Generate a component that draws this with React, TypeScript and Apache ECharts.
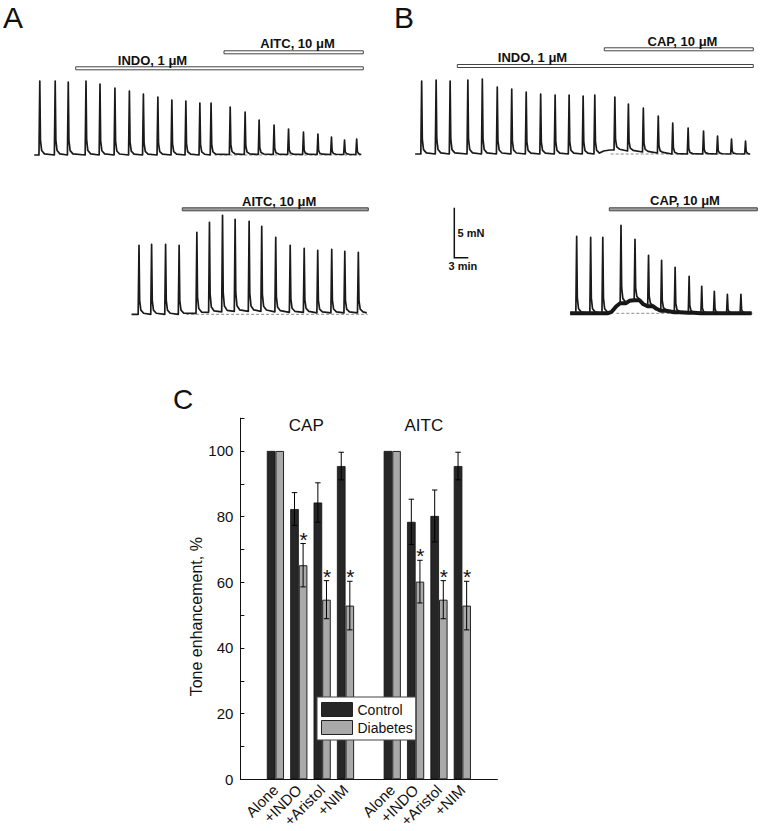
import React, { useEffect, useRef } from "react";
import * as echarts from "echarts";

const FONT = "'Liberation Sans', Arial, Helvetica, sans-serif";

// ---------- Panel C data ----------
const drugs = ["Alone", "+INDO", "+Aristol", "+NIM"];
const stimuli = ["CAP", "AITC"];
const capControl = [100, 82.3, 84.3, 95.4];
const capControlErr = [0, 5.0, 6.0, 4.2];
const capDiabetes = [100, 65.2, 54.7, 52.9];
const capDiabetesErr = [0, 6.6, 5.8, 7.4];
const capSignificant = [false, true, true, true];
const aitcControl = [100, 78.4, 80.2, 95.4];
const aitcControlErr = [0, 6.9, 7.9, 4.2];
const aitcDiabetes = [100, 60.2, 54.7, 52.9];
const aitcDiabetesErr = [0, 6.5, 5.8, 7.4];
const aitcSignificant = [false, true, true, true];
const seriesNames = ["Control", "Diabetes"];

// ---------- Panel A / B traces (time in min, force in mN) ----------
// A, top: INDO then AITC
const aTopTimes = [2.1, 5.4, 8.2, 12.0, 15.0, 18.2, 21.3, 24.3, 27.4, 30.4, 33.4, 36.4, 38.8, 42.9, 46.1, 49.1, 52.3, 55.4, 58.6, 61.7, 64.6, 67.4, 70.0];
const aTopPeaks = [7.4, 7.4, 7.3, 7.4, 7.1, 6.7, 6.4, 6.1, 5.8, 5.5, 5.4, 5.2, 5.2, 4.8, 4.3, 3.5, 3.0, 2.6, 2.3, 2.1, 1.8, 1.5, 1.6];
const aTopBases = [0, 0, 0, 0, 0, 0, 0, 0, 0, 0, 0, 0, 0, 0.05, 0.05, 0.05, 0.05, 0.05, 0.05, 0.05, 0.05, 0.05, 0.05];
const aTopExtra: [number, number][] = [];
const aTopRange: [number, number] = [0.9, 70.7];
const aTopDashed: [number, number] = [39.5, 70.8];

// B, top: INDO then CAP
const bTopTimes = [2.5, 5.6, 8.6, 12.4, 15.5, 18.7, 21.8, 24.9, 28.0, 31.1, 34.1, 37.1, 39.6, 43.9, 46.8, 50.0, 53.2, 56.3, 59.6, 62.9, 65.9, 68.9, 71.9];
const bTopPeaks = [7.3, 7.4, 7.3, 7.4, 7.5, 6.7, 6.5, 6.2, 6.0, 5.9, 5.9, 5.8, 5.9, 5.7, 5.0, 4.6, 3.8, 3.1, 2.6, 2.3, 1.8, 1.5, 1.3];
const bTopBases = [0, 0, 0, 0, 0, 0, 0, 0, 0, 0, 0, 0, 0, 0.4, 0.3, 0.2, 0.1, 0, 0, 0, 0, 0, 0];
const bTopExtra: [number, number][] = [[41.5, 0.3], [42.8, 0.4]];
const bTopRange: [number, number] = [1.1, 72.7];
const bTopDashed: [number, number] = [43.0, 72.8];

// A, bottom: AITC alone
const aBotTimes = [3.0, 5.7, 8.7, 11.6, 15.4, 18.1, 20.9, 23.6, 26.6, 29.3, 32.3, 35.4, 38.4, 41.3, 44.3, 47.1, 50.0];
const aBotPeaks = [6.9, 7.0, 7.0, 6.9, 8.2, 9.2, 9.9, 9.5, 9.3, 8.8, 7.7, 6.9, 6.6, 6.4, 6.5, 6.3, 6.2];
const aBotBases = [0, 0, 0, 0, 0.1, 0.2, 0.25, 0.3, 0.3, 0.3, 0.25, 0.2, 0.2, 0.15, 0.15, 0.15, 0.15];
const aBotExtra: [number, number][] = [];
const aBotRange: [number, number] = [1.4, 51.8];
const aBotDashed: [number, number] = [13.1, 52.0];

// B, bottom: CAP alone
const bBotTimes = [2.5, 5.5, 8.1, 12.0, 15.0, 17.9, 20.7, 23.6, 26.6, 29.3, 32.0, 34.8, 37.7];
const bBotPeaks = [7.7, 7.6, 7.6, 8.8, 7.4, 5.8, 5.3, 4.6, 3.7, 2.7, 2.2, 1.9, 1.9];
const bBotBases = [0, 0, 0, 1.0, 1.3, 0.7, 0.25, 0.1, 0.05, 0, 0, 0, 0];
const bBotExtra: [number, number][] = [[10.0, 0.15], [11.0, 0.7], [13.8, 1.25], [16.8, 0.9], [19.6, 0.45]];
const bBotRange: [number, number] = [1.1, 40.0];
const bBotDashed: [number, number] = [11.0, 40.2];

type Pt = [number, number];

function spikeShape(t: number, p: number, b: number): Pt[] {
  const a = p - b;
  return [[t - 0.18, b], [t, p], [t + 0.14, b + a * 0.2], [t + 0.4, b + a * 0.06], [t + 1.0, b + a * 0.015]];
}

function buildTrace(times: number[], peaks: number[], bases: number[], extra: Pt[], range: Pt): Pt[] {
  let pts: Pt[] = [[range[0], bases[0]]];
  times.forEach((t, i) => { pts = pts.concat(spikeShape(t, peaks[i], bases[i])); });
  pts = pts.concat(extra);
  pts.push([range[1], bases[bases.length - 1]]);
  pts.sort((u, v) => u[0] - v[0]);
  return pts;
}

function buildBaseline(times: number[], bases: number[], extra: Pt[], range: Pt): Pt[] {
  let pts: Pt[] = [[range[0], bases[0]]];
  times.forEach((t, i) => { pts.push([t - 0.18, bases[i]], [t + 1.0, bases[i]]); });
  pts = pts.concat(extra);
  pts.push([range[1], bases[bases.length - 1]]);
  pts.sort((u, v) => u[0] - v[0]);
  return pts;
}

const PX_PER_MIN = 14 / 3;
const PX_PER_MN = 10;
const BAR_W = 8.6;

export default function App() {
  const ref = useRef<HTMLDivElement>(null);
  useEffect(() => {
    if (!ref.current) return;
    const chart = echarts.init(ref.current, undefined, { renderer: "svg" });

    const traceLayouts = [
      { left: 30, baseline: 155, width: 340, ymax: 8 },
      { left: 410, baseline: 154, width: 350, ymax: 8 },
      { left: 125, baseline: 314.3, width: 250, ymax: 10.5 },
      { left: 565, baseline: 313.3, width: 195, ymax: 9.5 },
    ];
    const traces = [
      buildTrace(aTopTimes, aTopPeaks, aTopBases, aTopExtra, aTopRange),
      buildTrace(bTopTimes, bTopPeaks, bTopBases, bTopExtra, bTopRange),
      buildTrace(aBotTimes, aBotPeaks, aBotBases, aBotExtra, aBotRange),
      buildTrace(bBotTimes, bBotPeaks, bBotBases, bBotExtra, bBotRange),
    ];
    const dashed = [aTopDashed, bTopDashed, aBotDashed, bBotDashed];

    const grids: any[] = traceLayouts.map((l) => ({
      left: l.left,
      top: l.baseline - l.ymax * PX_PER_MN,
      width: l.width,
      height: (l.ymax + 0.5) * PX_PER_MN,
    }));
    const xAxes: any[] = traceLayouts.map((l, i) => ({
      type: "value", gridIndex: i, min: 0, max: l.width / PX_PER_MIN, show: false,
    }));
    const yAxes: any[] = traceLayouts.map((l, i) => ({
      type: "value", gridIndex: i, min: -0.5, max: l.ymax, show: false,
    }));

    const series: any[] = [];
    dashed.forEach((d, i) => {
      series.push({
        type: "line", xAxisIndex: i, yAxisIndex: i, silent: true, showSymbol: false, z: 1,
        data: [[d[0], 0], [d[1], 0]],
        lineStyle: { color: "#8a8a8a", width: 1, type: [3, 2] },
      });
    });
    // thick noisy baseline for B bottom
    series.push({
      type: "line", xAxisIndex: 3, yAxisIndex: 3, silent: true, showSymbol: false, z: 2,
      data: buildBaseline(bBotTimes, bBotBases, bBotExtra, bBotRange),
      lineStyle: { color: "#151515", width: 4 },
    });
    traces.forEach((tr, i) => {
      series.push({
        type: "line", xAxisIndex: i, yAxisIndex: i, silent: true, showSymbol: false, z: 3,
        data: tr,
        lineStyle: { color: "#1a1a1a", width: 1.7, join: "round" },
      });
    });

    // ---------- Panel C ----------
    const categories = ["", ...drugs, "", ...drugs, ""];
    const controlData = ["-", ...capControl, "-", ...aitcControl, "-"];
    const diabetesData = ["-", ...capDiabetes, "-", ...aitcDiabetes, "-"];
    const errData: any[] = [];
    drugs.forEach((_, i) => {
      errData.push([1 + i, capControl[i], capControlErr[i], -1, 0]);
      errData.push([1 + i, capDiabetes[i], capDiabetesErr[i], 1, capSignificant[i] ? 1 : 0]);
      errData.push([6 + i, aitcControl[i], aitcControlErr[i], -1, 0]);
      errData.push([6 + i, aitcDiabetes[i], aitcDiabetesErr[i], 1, aitcSignificant[i] ? 1 : 0]);
    });

    grids.push({ left: 240.4, top: 418.1, width: 257, height: 361.2 });
    xAxes.push({
      type: "category", gridIndex: 4, data: categories,
      axisLine: { show: true, lineStyle: { color: "#111", width: 1 } },
      axisTick: { show: false },
      axisLabel: { interval: 0, rotate: 45, fontSize: 15, color: "#111", fontFamily: FONT, margin: 8 },
    });
    yAxes.push({
      type: "value", gridIndex: 4, min: 0, max: 110, interval: 10,
      axisLine: { show: true, lineStyle: { color: "#111", width: 1 } },
      axisTick: { show: true, inside: true, length: 4, lineStyle: { color: "#111" } },
      splitLine: { show: false },
      axisLabel: {
        fontSize: 15, color: "#111", fontFamily: FONT, margin: 7,
        formatter: (v: number) => (v % 20 === 0 && v <= 100 ? String(v) : ""),
      },
      name: "Tone enhancement, %",
      nameLocation: "middle",
      nameGap: 25,
      nameTextStyle: { fontSize: 16, color: "#111", fontFamily: FONT, padding: [0, 36, 0, 0] },
    });

    series.push({
      name: seriesNames[0], type: "bar", xAxisIndex: 4, yAxisIndex: 4,
      data: controlData, barWidth: BAR_W, barGap: "0%",
      itemStyle: { color: "#262626", borderColor: "#111", borderWidth: 0.8 },
      z: 2,
    });
    series.push({
      name: seriesNames[1], type: "bar", xAxisIndex: 4, yAxisIndex: 4,
      data: diabetesData, barWidth: BAR_W, barGap: "0%",
      itemStyle: { color: "#a9a9a9", borderColor: "#222", borderWidth: 1 },
      z: 2,
    });
    series.push({
      type: "custom", xAxisIndex: 4, yAxisIndex: 4, silent: true, z: 3,
      encode: { x: 0, y: 1 },
      data: errData,
      renderItem: (params: any, api: any) => {
        const ci = api.value(0);
        const mean = api.value(1);
        const err = api.value(2);
        const side = api.value(3);
        const sig = api.value(4);
        const c = api.coord([ci, mean]);
        const x = c[0] + (side * BAR_W) / 2;
        const top = api.coord([ci, mean + err])[1];
        const bot = api.coord([ci, mean - err])[1];
        const st = { stroke: "#000", lineWidth: 1 };
        const children: any[] = [];
        if (err > 0) {
          children.push({ type: "line", shape: { x1: x, y1: top, x2: x, y2: bot }, style: st });
          children.push({ type: "line", shape: { x1: x - 2.7, y1: top, x2: x + 2.7, y2: top }, style: st });
          children.push({ type: "line", shape: { x1: x - 2.7, y1: bot, x2: x + 2.7, y2: bot }, style: st });
        }
        if (sig) {
          children.push({
            type: "text", x: x + 0.5, y: top - 4.5,
            style: { text: "*", fontSize: 21, fontFamily: FONT, fill: "#111", align: "center", verticalAlign: "middle" },
          });
        }
        return { type: "group", children };
      },
    });

    const label = (text: string, x: number, y: number, size: number, bold = true, align = "center") => ({
      type: "text", x, y, silent: true,
      style: { text, fontSize: size, fontWeight: bold ? "bold" : "normal", fontFamily: FONT, fill: "#111", align, verticalAlign: "middle" },
    });
    const drugBar = (x1: number, x2: number, yc: number, fill: string) => ({
      type: "rect", silent: true,
      shape: { x: x1, y: yc - 1.5, width: x2 - x1, height: 3 },
      style: { fill, stroke: "#444", lineWidth: 1 },
    });

    const graphic: any[] = [
      label("A", 3, 17.5, 30, false, "left"),
      label("B", 394, 17.5, 30, false, "left"),
      label("C", 173, 399, 28, false, "left"),
      drugBar(75.7, 363.3, 68.3, "#fff"),
      drugBar(224, 363.3, 52.3, "#fff"),
      label("INDO, 1 μM", 152.5, 60, 13),
      label("AITC, 10 μM", 297.5, 43.3, 13),
      drugBar(457.3, 753.3, 66, "#fff"),
      drugBar(604.3, 753.3, 49.3, "#fff"),
      label("INDO, 1 μM", 532.5, 57.3, 13),
      label("CAP, 10 μM", 682.5, 41, 13),
      drugBar(182.3, 368.3, 209.3, "#a0a0a0"),
      label("AITC, 10 μM", 279.2, 201.7, 13),
      drugBar(609.3, 757.3, 209.3, "#a0a0a0"),
      label("CAP, 10 μM", 685, 200.7, 13),
      {
        type: "polyline", silent: true,
        shape: { points: [[454.3, 207.7], [454.3, 257.7], [468.3, 257.7]] },
        style: { stroke: "#111", lineWidth: 1.5, fill: null },
      },
      label("5 mN", 457.5, 233.3, 11, true, "left"),
      label("3 min", 448.5, 266, 11, true, "left"),
      label(stimuli[0], 306.3, 425.5, 17, false),
      label(stimuli[1], 423.8, 425.5, 17, false),
    ];

    chart.setOption({
      animation: false,
      backgroundColor: "#fff",
      textStyle: { fontFamily: FONT },
      grid: grids,
      xAxis: xAxes,
      yAxis: yAxes,
      legend: {
        data: seriesNames,
        orient: "vertical",
        left: 317,
        top: 697,
        itemWidth: 31,
        itemHeight: 14,
        itemGap: 3,
        padding: [5, 3, 5, 4],
        icon: "rect",
        selectedMode: false,
        backgroundColor: "#fff",
        borderColor: "#444",
        borderWidth: 1,
        borderRadius: 0,
        textStyle: { fontSize: 14, color: "#111", fontFamily: FONT },
        itemStyle: { borderWidth: 1, borderColor: "#222" },
      },
      series,
      graphic,
    });
    return () => chart.dispose();
  }, []);
  return <div ref={ref} style={{ position: "fixed", left: 0, top: 0, width: 761, height: 831 }} />;
}
